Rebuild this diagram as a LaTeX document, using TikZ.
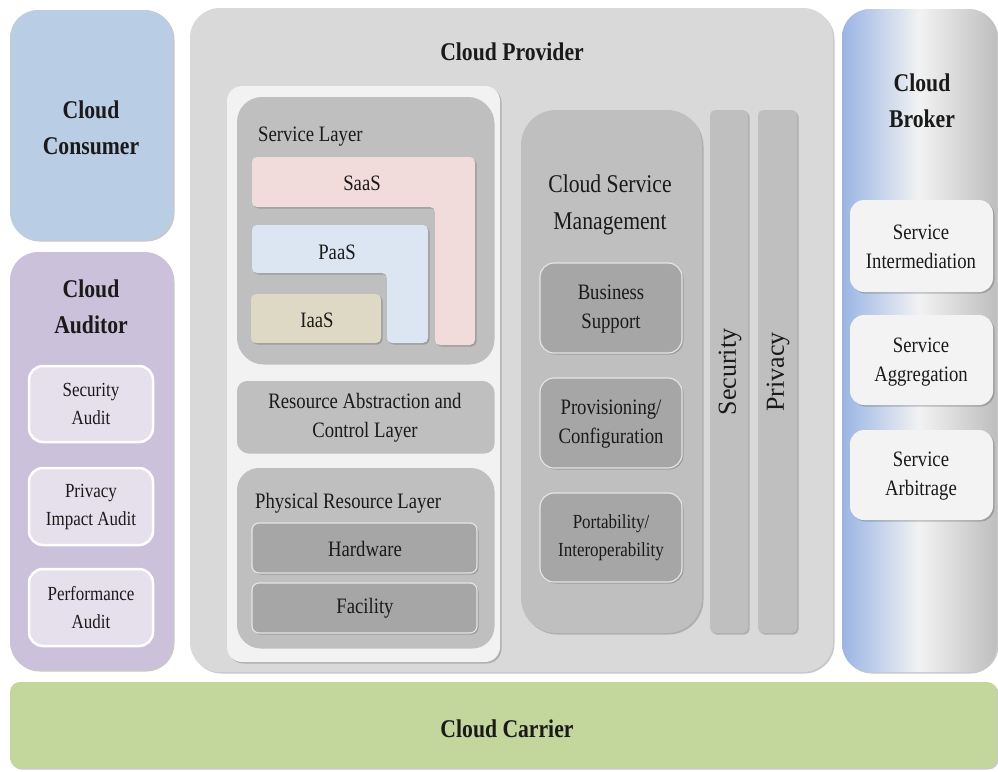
\documentclass[tikz,border=0pt]{standalone}
\usepackage{fontspec}
\setmainfont[FakeStretch=0.85]{Liberation Serif}
\newfontfamily\vfont{Liberation Serif}
\usetikzlibrary{shadows}
\definecolor{consumer}{HTML}{B9CDE5}
\definecolor{auditor}{HTML}{CCC1DA}
\definecolor{auditbox}{HTML}{E6E0EC}
\definecolor{provider}{HTML}{D9D9D9}
\definecolor{panel}{HTML}{F2F2F2}
\definecolor{layer}{HTML}{BFBFBF}
\definecolor{saas}{HTML}{F2DCDB}
\definecolor{paas}{HTML}{DCE6F2}
\definecolor{iaas}{HTML}{DDD9C4}
\definecolor{darkbox}{HTML}{A6A6A6}
\definecolor{darkedge}{HTML}{E4E4E4}
\definecolor{carrier}{HTML}{C3D69B}
\definecolor{brokerblue}{HTML}{9AB5E4}
\definecolor{brokergrey}{HTML}{BEBEBE}
\definecolor{brokerbox}{HTML}{F3F3F3}
\definecolor{inktext}{HTML}{1A1A1A}
\tikzset{
  shd/.style={drop shadow={shadow xshift=1.5pt,shadow yshift=-1.5pt,opacity=0.3,fill=black!70}},
  title/.style={font=\fontsize{25.5}{36}\selectfont\bfseries},
  big/.style={font=\fontsize{25.5}{37}\selectfont},
  mid/.style={font=\fontsize{22}{29}\selectfont},
  small/.style={font=\fontsize{20}{28}\selectfont},
  vert/.style={font=\vfont\fontsize{26}{30}\selectfont, rotate=90},
  auditstyle/.style={fill=auditbox, draw=white, line width=2.5pt, rounded corners=14pt},
  darkstyle/.style={fill=darkbox, draw=darkedge, line width=1.2pt, rounded corners=10pt, shd},
  brokerstyle/.style={fill=brokerbox, rounded corners=14pt, shd},
}
\begin{document}
\begin{tikzpicture}[x=1pt,y=-1pt, every node/.style={inner sep=0pt, align=center, text=inktext}]
\useasboundingbox (0,0) rectangle (998,771);
\fill[white] (0,0) rectangle (998,771);

% Cloud Consumer
\path[fill=consumer, rounded corners=28pt, shd] (10,10) rectangle (173,240);
\node[title] (consumer) at (91,128) {Cloud\\Consumer};

% Cloud Auditor
\path[fill=auditor, rounded corners=28pt, shd] (10,252) rectangle (173,670);
\node[title] (auditor) at (91,307) {Cloud\\Auditor};
\path[auditstyle] (29,366) rectangle (153,442);
\node[small] (secaudit) at (91,404) {Security\\Audit};
\path[auditstyle] (29,468) rectangle (153,545);
\node[small] (privaudit) at (91,507) {Privacy\\Impact Audit};
\path[auditstyle] (29,569) rectangle (153,646);
\node[small] (perfaudit) at (91,608) {Performance\\Audit};

% Cloud Provider
\path[fill=provider, rounded corners=30pt, shd] (190,8) rectangle (833,672);
\node[title] (provider) at (512,52) {Cloud Provider};

% inner panel
\path[fill=panel, rounded corners=15pt, shd] (227,86) rectangle (500,662);

% Service layer
\path[fill=layer, rounded corners=25pt, shd] (237,97) rectangle (493,363);
\node[mid, anchor=west] (servicelayer) at (258,137) {Service Layer};
\path[fill=saas, rounded corners=5pt, shd] (252,157) -- (475,157) -- (475,345) -- (435,345) -- (435,207) -- (252,207) -- cycle;
\node[mid] (saas) at (362,183) {SaaS};
\path[fill=paas, rounded corners=5pt, shd] (252,225) -- (428,225) -- (428,343) -- (387,343) -- (387,273) -- (252,273) -- cycle;
\node[mid] (paas) at (337,252) {PaaS};
\path[fill=iaas, rounded corners=5pt, shd] (251,294) rectangle (381,343);
\node[mid] (iaas) at (317,320) {IaaS};

% Resource abstraction
\path[fill=layer, rounded corners=10pt, shd] (237,381) rectangle (493,452);
\node[mid] (rac) at (365,418) {Resource Abstraction and\\Control Layer};

% Physical resource layer
\path[fill=layer, rounded corners=22pt, shd] (237,468) rectangle (493,647);
\node[mid, anchor=west] (phys) at (255,503) {Physical Resource Layer};
\path[darkstyle, rounded corners=7pt] (252,523) rectangle (477,573);
\node[mid] (hardware) at (365,549) {Hardware};
\path[darkstyle, rounded corners=7pt] (252,583) rectangle (477,633);
\node[mid] (facility) at (365,608) {Facility};

% Cloud Service Management
\path[fill=layer, rounded corners=35pt, shd] (521,110) rectangle (702,633);
\node[big] (csm) at (610,205) {Cloud Service\\Management};
\path[darkstyle, rounded corners=14pt] (540,263) rectangle (682,353);
\node[mid] (business) at (611,309) {Business\\Support};
\path[darkstyle, rounded corners=14pt] (540,378) rectangle (682,468);
\node[mid] (provisioning) at (611,424) {Provisioning/\\Configuration};
\path[darkstyle, rounded corners=14pt] (540,493) rectangle (682,582);
\node[small] (portability) at (611,538) {Portability/\\Interoperability};

% Security and Privacy bars
\path[fill=layer, rounded corners=5pt, shd] (710,110) rectangle (748,633);
\node[vert] (security) at (730,372) {Security};
\path[fill=layer, rounded corners=5pt, shd] (758,110) rectangle (797,633);
\node[vert] (privacy) at (778,372) {Privacy};

% Cloud Broker
\path[left color=brokerblue, right color=brokergrey, middle color=panel, rounded corners=28pt, shd] (842,9) rectangle (997,672);
\node[title] (broker) at (922,101) {Cloud\\Broker};
\path[brokerstyle] (850,200) rectangle (993,292);
\node[mid] (intermed) at (921,247) {Service\\Intermediation};
\path[brokerstyle] (850,315) rectangle (993,405);
\node[mid] (aggreg) at (921,362) {Service\\Aggregation};
\path[brokerstyle] (850,430) rectangle (993,520);
\node[mid] (arbit) at (921,476) {Service\\Arbitrage};

% Cloud Carrier
\path[fill=carrier, rounded corners=10pt, shd] (10,682) rectangle (997,768);
\node[title] (carrier) at (507,729) {Cloud Carrier};
\end{tikzpicture}
\end{document}
